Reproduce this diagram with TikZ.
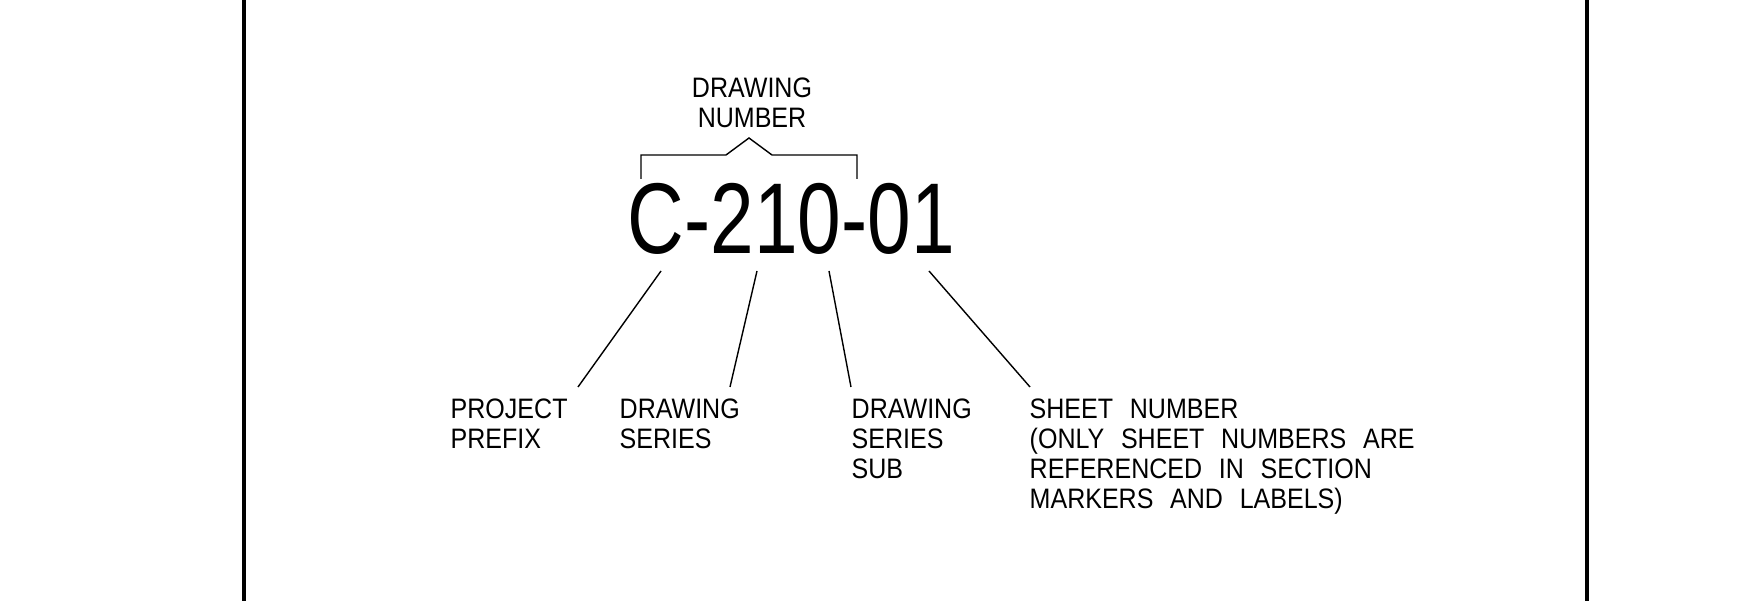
\documentclass[tikz,border=0pt]{standalone}
\usepackage{fontspec}
\usepackage{tikz}
\usetikzlibrary{positioning,calc}
\newfontfamily\cadfont[FakeStretch=0.89,WordSpace=2.4]{Liberation Sans}
\newfontfamily\numfont[FakeStretch=0.78]{Liberation Sans}
\definecolor{Ink}{HTML}{000000}

\begin{document}
\begin{tikzpicture}[x=0.01cm,y=-0.01cm,
    lbl/.style={inner sep=0pt,align=left,font=\cadfont\fontsize{8}{8.54}\selectfont},
    leader/.style={Ink,line width=0.4pt},
    frame/.style={Ink,line width=1.4pt}]
  \useasboundingbox (0,0) rectangle (1756,601);
  \draw[frame] (244,0) -- (244,601);
  \draw[frame] (1587,0) -- (1587,601);

  \node[inner sep=0pt,anchor=base west,font=\numfont\fontsize{28.6}{30}\selectfont] (code) at (627,254) {C-210-01};

  % bracket over the drawing number
  \draw[leader] (641,179) -- (641,155) -- (726,155) -- (749,138) -- (772,155) -- (857,155) -- (857,179);
  \node[lbl,align=center,anchor=north] (dwgno) at (752,77) {DRAWING\\NUMBER};

  \node[lbl,anchor=north west] (prefix) at (450,398) {PROJECT\\PREFIX};
  \node[lbl,anchor=north west] (series) at (619,398) {DRAWING\\SERIES};
  \node[lbl,anchor=north west] (sub) at (851,398) {DRAWING\\SERIES\\SUB};
  \node[lbl,anchor=north west] (sheet) at (1029,398) {SHEET NUMBER\\(ONLY SHEET NUMBERS ARE\\REFERENCED IN SECTION\\MARKERS AND LABELS)};

  \coordinate (pC) at (661,271);
  \coordinate (p2) at (757,271);
  \coordinate (p0) at (829,271);
  \coordinate (p1) at (929,271);
  \draw[leader] (pC) -- ($(prefix.north west)+(128,-11)$);
  \draw[leader] (p2) -- ($(series.north west)+(111,-11)$);
  \draw[leader] (p0) -- ($(sub.north west)+(0,-11)$);
  \draw[leader] (p1) -- ($(sheet.north west)+(1,-11)$);
\end{tikzpicture}
\end{document}
